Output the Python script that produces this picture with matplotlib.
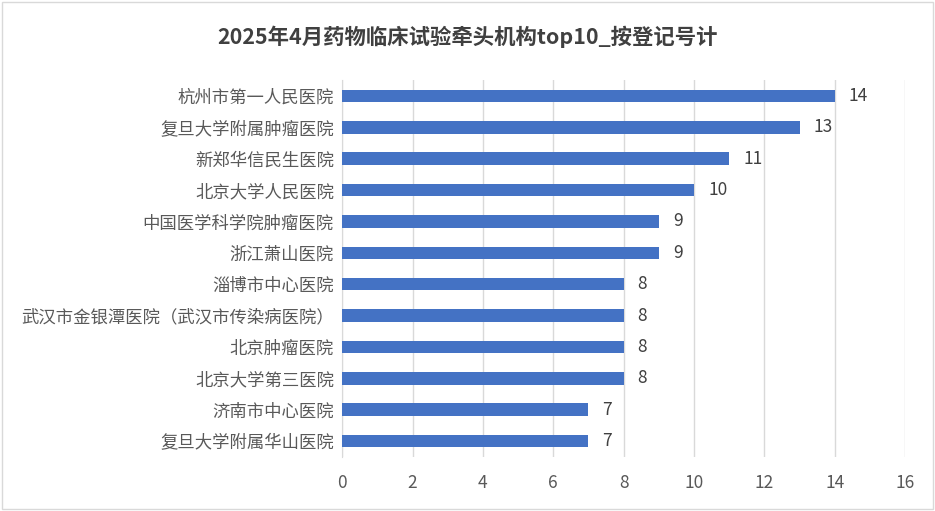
import matplotlib
matplotlib.use("Agg")
import matplotlib.pyplot as plt
from matplotlib.patches import Rectangle

plt.rcParams['font.family'] = ['Noto Sans CJK SC', 'DejaVu Sans']

# data, top to bottom as shown
hospitals = [
    "杭州市第一人民医院",
    "复旦大学附属肿瘤医院",
    "新郑华信民生医院",
    "北京大学人民医院",
    "中国医学科学院肿瘤医院",
    "浙江萧山医院",
    "淄博市中心医院",
    "武汉市金银潭医院（武汉市传染病医院）",
    "北京肿瘤医院",
    "北京大学第三医院",
    "济南市中心医院",
    "复旦大学附属华山医院",
]
counts = [14, 13, 11, 10, 9, 9, 8, 8, 8, 8, 7, 7]
xticks = [0, 2, 4, 6, 8, 10, 12, 14, 16]

title = "2025年4月药物临床试验牵头机构top10_按登记号计"

fig = plt.figure(figsize=(9.35, 5.11), dpi=100)
ax = fig.add_axes([0.366, 0.106, 0.602, 0.737])

ypos = list(range(len(hospitals)))
ax.barh(ypos, counts, height=0.4, color="#4472c4", zorder=3)
for y, v in zip(ypos, counts):
    ax.text(v + 0.4, y, str(v), va="center", ha="left", fontsize=12.5, color="#404040")

ax.set_ylim(len(hospitals) - 0.5, -0.5)
ax.set_yticks(ypos)
ax.set_yticklabels(hospitals, fontsize=12.5, color="#595959")
ax.set_xlim(0, 16)
ax.set_xticks(xticks)
ax.set_xticklabels([str(t) for t in xticks], fontsize=12.5, color="#595959")
ax.tick_params(axis="both", length=0, pad=6)
ax.tick_params(axis="x", pad=12)

ax.grid(axis="x", color="#d9d9d9", linewidth=1, zorder=0)
for side in ["top", "right", "bottom"]:
    ax.spines[side].set_visible(False)
ax.spines["left"].set_color("#d9d9d9")

fig.text(0.5, 0.928, title, ha="center", va="center", fontsize=15.4,
         fontweight="bold", color="#404040")

# thin frame around chart area
fig.patches.append(Rectangle((0.002, 0.003), 0.996, 0.994, transform=fig.transFigure,
                             fill=False, edgecolor="#d9d9d9", linewidth=1))

plt.savefig("out.png", dpi=100)
plt.close()
